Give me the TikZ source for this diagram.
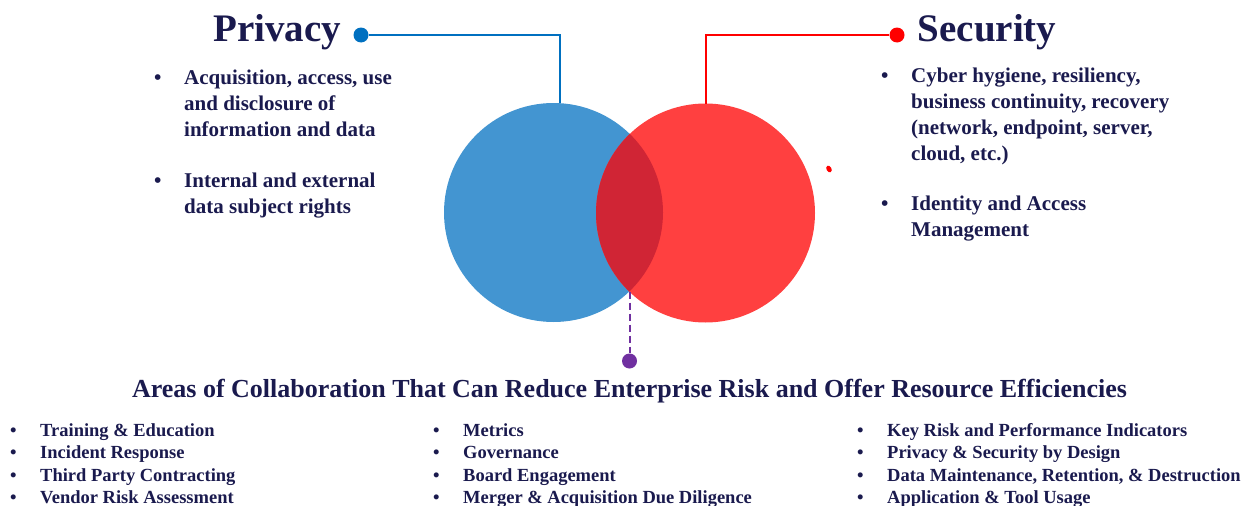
\documentclass[tikz,border=0pt]{standalone}
\usepackage{fontspec}
\setmainfont{Liberation Serif}
\usetikzlibrary{positioning,calc,shapes.geometric}
\definecolor{ink}{HTML}{1A1A4E}
\definecolor{privblue}{HTML}{4395D1}
\definecolor{privline}{HTML}{0070C0}
\definecolor{secred}{HTML}{FF4040}
\definecolor{secline}{HTML}{FF0000}
\definecolor{overlap}{HTML}{D02535}
\definecolor{collab}{HTML}{7030A0}
\newcommand{\blt}{\makebox[30pt][l]{\textbullet}}
\newcommand{\ind}{\hspace*{30pt}}
\tikzset{
heading/.style = {font=\bfseries\fontsize{39}{44}\selectfont, text=ink, inner sep=0pt, anchor=base west},
item/.style = {font=\bfseries\fontsize{21}{26}\selectfont, text=ink, align=left, inner sep=0pt, anchor=base west},
listcol/.style = {font=\bfseries\fontsize{18.5}{22.4}\selectfont, text=ink, align=left, inner sep=0pt, anchor=base west},
venn/.style = {circle, minimum size=219pt, inner sep=0pt, outer sep=0pt},
dot/.style = {circle, inner sep=0pt, minimum size=#1},
dot/.default = 15pt,
link/.style = {line width=2pt},
}

\begin{document}
\begin{tikzpicture}[x=1pt, y=-1pt, node distance=1cm, >=latex]
      \useasboundingbox (0,0) rectangle (1253,506);
      % the two sets
      \node [venn, fill=privblue] (privc) at (553.5,212.5) {};
      \node [venn, fill=secred] (secc) at (705.5,213) {};
      \begin{scope}
        \clip (553.5,212.5) circle [radius=109.5pt];
        \fill [overlap] (705.5,213) circle [radius=109.5pt];
      \end{scope}
      \coordinate (meet) at (629.5,291.5);
      % headings
      \node [heading] (privacy) at (213,41.7) {Privacy};
      \node [heading] (security) at (917.5,41.7) {Security};
      \node [dot, fill=privline] (privdot) at (361,35) {};
      \node [dot, fill=secline] (secdot) at (897,35) {};
      \node [dot, fill=collab] (collabdot) at (629.5,361) {};
      \node [fill=secline, ellipse, inner sep=0pt, minimum width=5pt, minimum height=7pt, rotate=30] (speck) at (829,169) {};
      \draw [link, privline] (privdot) -| ([xshift=6pt]privc.north);
      \draw [link, secline] (secdot) -| (secc.north);
      \draw [link, collab, dash pattern=on 7pt off 4pt] (meet) -- (collabdot);
      % privacy items (anchored on last baseline)
      \node [item] (privone) at (154,136.5) {\blt Acquisition, access, use\\ \ind and disclosure of\\ \ind information and data};
      \node [item] (privtwo) at (154,213) {\blt Internal and external\\ \ind data subject rights};
      % security items
      \node [item] (secone) at (881,160) {\blt Cyber hygiene, resiliency,\\ \ind business continuity, recovery\\ \ind (network, endpoint, server,\\ \ind cloud, etc.)};
      \node [item] (sectwo) at (881,236.5) {\blt Identity and Access\\ \ind Management};
      % collaboration
      \node [font=\bfseries\fontsize{26}{30}\selectfont, text=ink, inner sep=0pt, anchor=base] (areas) at (629.5,397.5) {Areas of Collaboration That Can Reduce Enterprise Risk and Offer Resource Efficiencies};
      \node [listcol] (colone) at (10,503.5) {\blt Training \& Education\\ \blt Incident Response\\ \blt Third Party Contracting\\ \blt Vendor Risk Assessment};
      \node [listcol] (coltwo) at (433,503.5) {\blt Metrics\\ \blt Governance\\ \blt Board Engagement\\ \blt Merger \& Acquisition Due Diligence};
      \node [listcol] (colthree) at (857,503.5) {\blt Key Risk and Performance Indicators\\ \blt Privacy \& Security by Design\\ \blt Data Maintenance, Retention, \& Destruction\\ \blt Application \& Tool Usage};
\end{tikzpicture}
\end{document}
